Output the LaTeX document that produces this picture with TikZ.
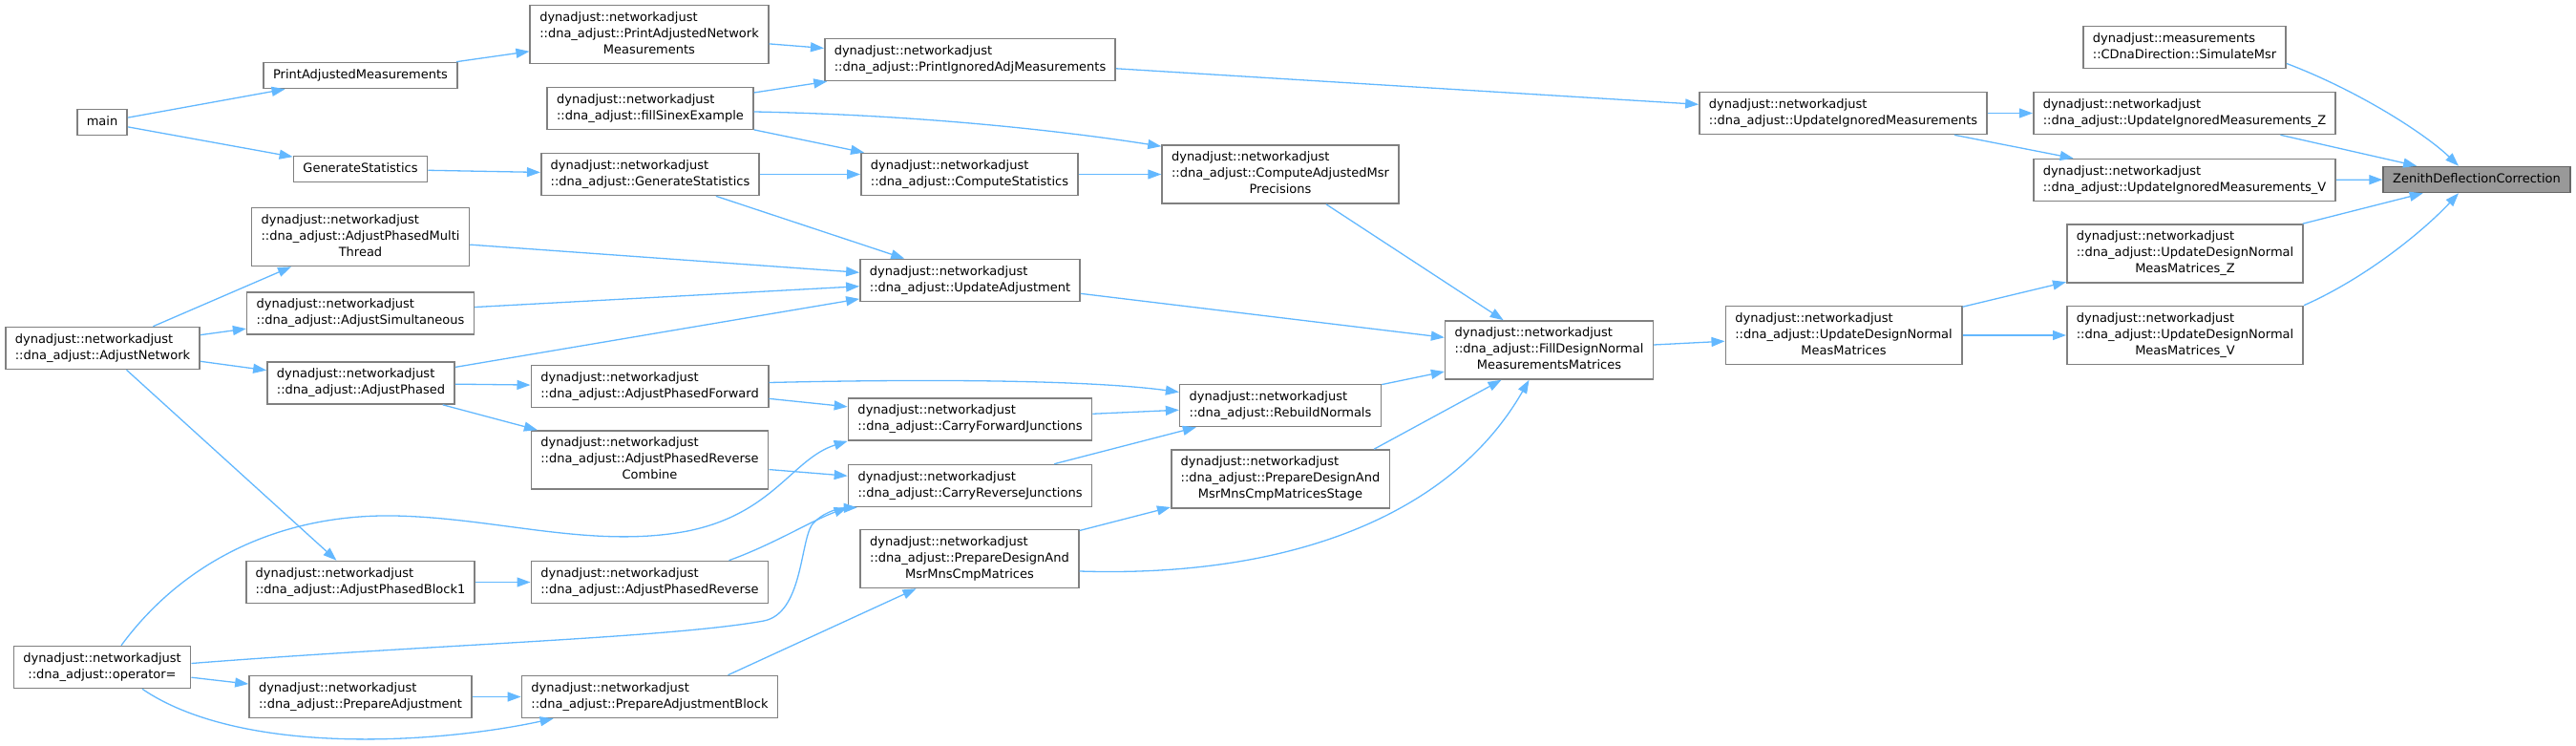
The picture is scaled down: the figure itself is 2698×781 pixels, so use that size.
\documentclass[tikz,border=0pt]{standalone}
\usepackage{fontspec}
\setmainfont{DejaVu Sans}
\usetikzlibrary{arrows.meta,calc}
\definecolor{edgecol}{RGB}{99,184,255}
\definecolor{boxcol}{RGB}{128,128,128}
\definecolor{hitfill}{RGB}{153,153,153}
\definecolor{hitline}{RGB}{102,102,102}
\newcommand{\onel}[1]{\begin{tabular}{@{}c@{}}#1\end{tabular}}
\newcommand{\twol}[2]{\begin{tabular}{@{}l@{}}#1\\\multicolumn{1}{@{}c@{}}{#2}\end{tabular}}
\newcommand{\threel}[3]{\begin{tabular}{@{}l@{}}#1\\#2\\\multicolumn{1}{@{}c@{}}{#3}\end{tabular}}
\newcommand{\nadj}{dynadjust::networkadjust}

\begin{document}
\begin{tikzpicture}[x=1pt,y=-1pt,
  fn/.style={draw=boxcol,fill=white,line width=1.6pt,inner xsep=10pt,inner ysep=5pt,font=\fontsize{13}{17}\selectfont},
  hit/.style={fn,fill=hitfill,draw=hitline},
  call/.style={draw=edgecol,line width=1.3pt,-{Triangle[length=14pt,width=10pt]}}]
\useasboundingbox (0,0) rectangle (2698,781);
\node[fn] (main) at (107,128) {\onel{main}};
\node[fn] (printAM) at (377.5,79) {\onel{PrintAdjustedMeasurements}};
\node[fn] (genStats) at (377.5,177) {\onel{GenerateStatistics}};
\node[fn] (phasedMT) at (377.5,248) {\threel{\nadj}{::dna\_adjust::AdjustPhasedMulti}{Thread}};
\node[fn] (simult) at (377.5,328) {\twol{\nadj}{::dna\_adjust::AdjustSimultaneous}};
\node[fn] (adjNet) at (107.5,364.5) {\twol{\nadj}{::dna\_adjust::AdjustNetwork}};
\node[fn] (phased) at (378,401) {\twol{\nadj}{::dna\_adjust::AdjustPhased}};
\node[fn] (phasedB1) at (377.5,609.5) {\twol{\nadj}{::dna\_adjust::AdjustPhasedBlock1}};
\node[fn] (opEq) at (107,698.5) {\twol{\nadj}{::dna\_adjust::operator=}};
\node[fn] (prepAdj) at (377.5,729.5) {\twol{\nadj}{::dna\_adjust::PrepareAdjustment}};
\node[fn] (printANM) at (680,36) {\threel{\nadj}{::dna\_adjust::PrintAdjustedNetwork}{Measurements}};
\node[fn] (sinex) at (681,113.5) {\twol{\nadj}{::dna\_adjust::fillSinexExample}};
\node[fn] (dnaGenStats) at (681,182.5) {\twol{\nadj}{::dna\_adjust::GenerateStatistics}};
\node[fn] (phasedFwd) at (680.5,404.5) {\twol{\nadj}{::dna\_adjust::AdjustPhasedForward}};
\node[fn] (phasedRevC) at (680.5,481.5) {\threel{\nadj}{::dna\_adjust::AdjustPhasedReverse}{Combine}};
\node[fn] (phasedRev) at (680.5,609.5) {\twol{\nadj}{::dna\_adjust::AdjustPhasedReverse}};
\node[fn] (prepAdjB) at (680.5,729.5) {\twol{\nadj}{::dna\_adjust::PrepareAdjustmentBlock}};
\node[fn] (printIAM) at (1016,62.5) {\twol{\nadj}{::dna\_adjust::PrintIgnoredAdjMeasurements}};
\node[fn] (compStats) at (1015.5,182.5) {\twol{\nadj}{::dna\_adjust::ComputeStatistics}};
\node[fn] (updAdj) at (1016,293.5) {\twol{\nadj}{::dna\_adjust::UpdateAdjustment}};
\node[fn] (carryFwd) at (1016,439) {\twol{\nadj}{::dna\_adjust::CarryForwardJunctions}};
\node[fn] (carryRev) at (1016,508.5) {\twol{\nadj}{::dna\_adjust::CarryReverseJunctions}};
\node[fn] (prepDM) at (1015.5,585) {\threel{\nadj}{::dna\_adjust::PrepareDesignAnd}{MsrMnsCmpMatrices}};
\node[fn] (compAMP) at (1341,182.5) {\threel{\nadj}{::dna\_adjust::ComputeAdjustedMsr}{Precisions}};
\node[fn] (rebuild) at (1341,424.5) {\twol{\nadj}{::dna\_adjust::RebuildNormals}};
\node[fn] (prepDMS) at (1341,501.5) {\threel{\nadj}{::dna\_adjust::PrepareDesignAnd}{MsrMnsCmpMatricesStage}};
\node[fn] (fillDN) at (1622.5,366.5) {\threel{\nadj}{::dna\_adjust::FillDesignNormal}{MeasurementsMatrices}};
\node[fn] (updIgn) at (1930.5,118.5) {\twol{\nadj}{::dna\_adjust::UpdateIgnoredMeasurements}};
\node[fn] (updDNM) at (1931,351) {\threel{\nadj}{::dna\_adjust::UpdateDesignNormal}{MeasMatrices}};
\node[fn] (simMsr) at (2288,49.5) {\twol{dynadjust::measurements}{::CDnaDirection::SimulateMsr}};
\node[fn] (updIgnZ) at (2288,118.5) {\twol{\nadj}{::dna\_adjust::UpdateIgnoredMeasurements\_Z}};
\node[fn] (updIgnV) at (2288,188.5) {\twol{\nadj}{::dna\_adjust::UpdateIgnoredMeasurements\_V}};
\node[fn] (updDNMZ) at (2288.5,265.5) {\threel{\nadj}{::dna\_adjust::UpdateDesignNormal}{MeasMatrices\_Z}};
\node[fn] (updDNMV) at (2288.5,351) {\threel{\nadj}{::dna\_adjust::UpdateDesignNormal}{MeasMatrices\_V}};
\node[hit] (zenith) at (2594,188) {\onel{ZenithDeflectionCorrection}};

\draw[call] (main) -- (printAM);
\draw[call] (main) -- (genStats);
\draw[call] (printAM) -- (printANM);
\draw[call] (genStats) -- (dnaGenStats);
\draw[call] (printANM) -- (printIAM);
\draw[call] (sinex) -- (printIAM);
\draw[call] (sinex) -- (compStats);
\draw[call] ($(sinex.east)+(0,3.5)$) .. controls (950,120) and (1100,135) .. ($(compAMP.north west)+(0,2)$);
\draw[call] (dnaGenStats) -- (compStats);
\draw[call] (dnaGenStats) -- (updAdj);
\draw[call] (compStats) -- (compAMP);
\draw[call] (printIAM) -- (updIgn);
\draw[call] (compAMP) -- (fillDN);
\draw[call] (updAdj) -- (fillDN);
\draw[call] (phasedMT) -- (updAdj);
\draw[call] (simult) -- (updAdj);
\draw[call] (phased) -- (updAdj);
\draw[call] (adjNet) -- (phasedMT);
\draw[call] (adjNet) -- (simult);
\draw[call] (adjNet) -- (phased);
\draw[call] (adjNet) -- (phasedB1);
\draw[call] (phased) -- (phasedFwd);
\draw[call] (phased) -- (phasedRevC);
\draw[call] ($(phasedFwd.east)+(0,-4)$) .. controls (1000,396) and (1150,399) .. ($(rebuild.west)+(0,-14)$);
\draw[call] (phasedFwd) -- (carryFwd);
\draw[call] (phasedRevC) -- (carryRev);
\draw[call] (carryFwd) -- (rebuild);
\draw[call] (carryRev) -- (rebuild);
\draw[call] (rebuild) -- (fillDN);
\draw[call] ($(prepDMS.north east)+(-17,0)$) -- ($(fillDN.south)+(-50,0)$);
\draw[call] (prepDM) -- (prepDMS);
\draw[call] ($(prepDM.east)+(0,13)$) .. controls (1350,605) and (1520,540) .. ($(fillDN.south)+(-21,0)$);
\draw[call] ($(opEq.north)+(20,0)$) .. controls (190,590) and (290,538) .. (413,540) .. controls (520,542) and (620,575) .. (720,556) .. controls (810,538) and (830,480) .. (carryFwd.south west);
\draw[call] ($(opEq.east)+(0,-4)$) .. controls (450,675) and (700,668) .. (800,650) .. controls (840,642) and (838,570) .. (850,550) .. controls (860,537) and (878,532) .. ($(carryRev.south west)+(10,0)$);
\draw[call] ($(phasedRev.north east)+(-42,0)$) .. controls (810,570) and (850,545) .. (carryRev.south west);
\draw[call] (phasedB1) -- (phasedRev);
\draw[call] (opEq) -- (prepAdj);
\draw[call] ($(opEq.south)+(42,0)$) .. controls (250,790) and (450,780) .. ($(prepAdjB.south west)+(34,0)$);
\draw[call] (prepAdj) -- (prepAdjB);
\draw[call] ($(prepAdjB.north)+(82,0)$) -- ($(prepDM.south)+(-56,0)$);
\draw[call] (fillDN) -- (updDNM);
\draw[call] (updDNM) -- (updDNMZ);
\draw[call] (updDNM) -- (updDNMV);
\draw[call] (updIgn) -- (updIgnZ);
\draw[call] (updIgn) -- (updIgnV);
\draw[call] ($(simMsr.east)+(0,17)$) .. controls (2470,95) and (2540,140) .. ($(zenith.north)+(-19,0)$);
\draw[call] (updIgnZ) -- (zenith);
\draw[call] (updIgnV) -- (zenith);
\draw[call] (updDNMZ) -- (zenith);
\draw[call] (updDNMV.north east) .. controls (2480,290) and (2540,240) .. ($(zenith.south)+(-19,0)$);
\end{tikzpicture}
\end{document}
